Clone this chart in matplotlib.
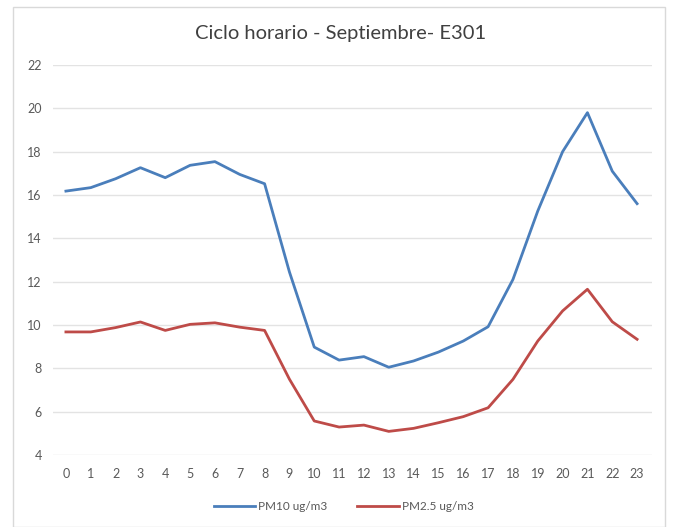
import matplotlib
matplotlib.use("Agg")
import matplotlib.pyplot as plt
from matplotlib.patches import Rectangle

hours = list(range(24))
pm10 = [16.18, 16.34, 16.75, 17.26, 16.8, 17.37, 17.54, 16.95, 16.52, 12.45,
        8.98, 8.38, 8.54, 8.05, 8.34, 8.75, 9.26, 9.92, 12.1, 15.26,
        18.0, 19.8, 17.1, 15.6]
pm25 = [9.68, 9.68, 9.88, 10.14, 9.75, 10.03, 10.1, 9.9, 9.75, 7.5,
        5.57, 5.29, 5.38, 5.09, 5.23, 5.49, 5.77, 6.18, 7.49, 9.26,
        10.65, 11.65, 10.15, 9.34]
yticks = list(range(4, 23, 2))
title = "Ciclo horario - Septiembre- E301"
labels = ["PM10 ug/m3", "PM2.5 ug/m3"]

plt.rcParams['font.family'] = ['Lato', 'DejaVu Sans']

fig = plt.figure(figsize=(6.74, 5.27), dpi=100)
fig.patches.append(Rectangle((13/674, 0), (665-13)/674, 1 - 7/527,
                             transform=fig.transFigure, fill=False,
                             edgecolor='#D9D9D9', linewidth=1.0))
ax = fig.add_axes([53/674, 1 - 455/527, (652-53)/674, (455-65)/527])

ax.plot(hours, pm10, color='#4A7EBB', linewidth=2.0, label=labels[0])
ax.plot(hours, pm25, color='#BE4B48', linewidth=2.0, label=labels[1])

ax.set_xlim(-0.52, 23.6)
ax.set_ylim(4, 22)
ax.set_yticks(yticks)
ax.set_xticks(hours)
ax.grid(axis='y', color='#E3E3E3', linewidth=1.0)
ax.set_axisbelow(True)
for s in ax.spines.values():
    s.set_visible(False)
ax.tick_params(axis='both', length=0, labelsize=9, colors='#595959')
ax.tick_params(axis='y', pad=8)
ax.tick_params(axis='x', pad=9)

fig.text(0.505, 1 - 33/527, title, ha='center', va='center',
         fontsize=14.5, color='#404040')

fig.legend(loc='center', bbox_to_anchor=(0.51, 1 - 507/527), ncol=2,
           frameon=False, fontsize=8.5, handlelength=3.5, columnspacing=2.5,
           labelcolor='#595959', handletextpad=0.3)

fig.savefig("out.png", dpi=100)
